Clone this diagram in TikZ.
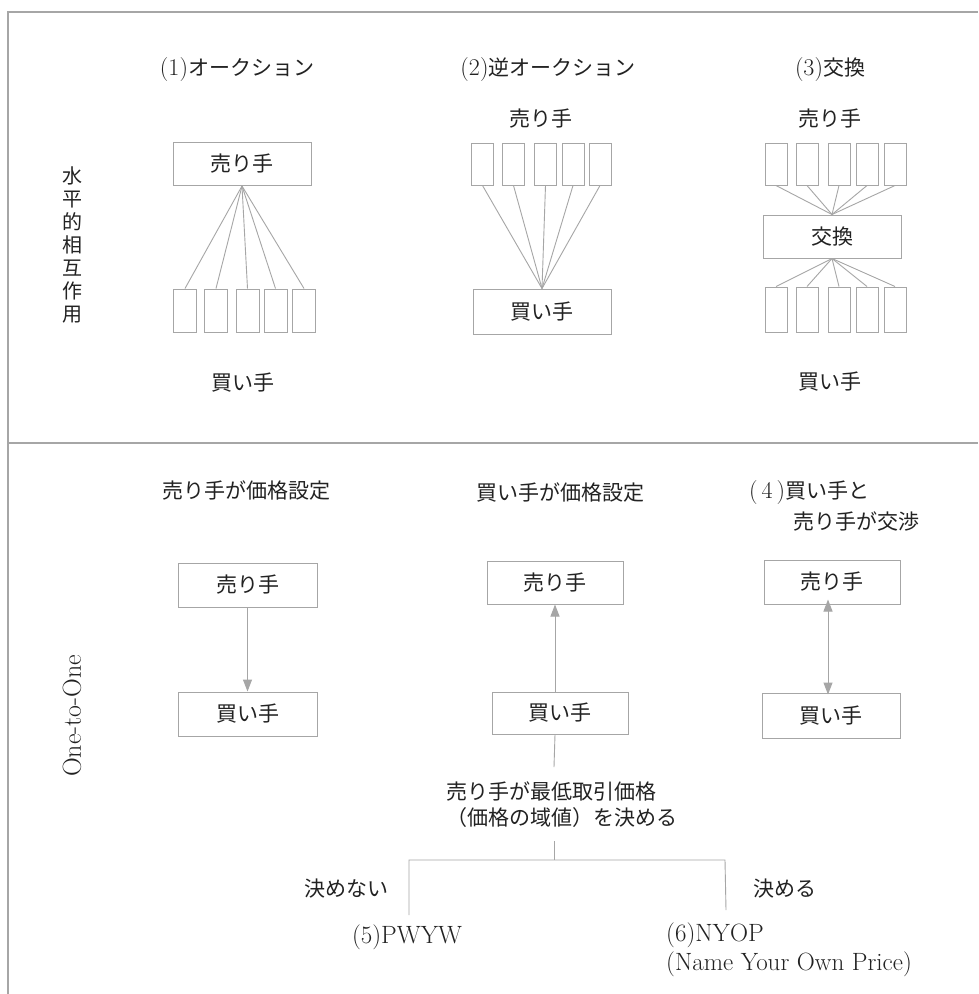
\documentclass[tikz,border=0pt]{standalone}
\usepackage{fontspec}
\newfontfamily\jp{Noto Sans CJK JP}
\usetikzlibrary{arrows.meta}
\definecolor{lgray}{HTML}{A6A6A6}
\definecolor{txt}{HTML}{222222}
\newcommand{\lat}[1]{{\fontsize{24}{28}\selectfont #1}}
\begin{document}
\begin{tikzpicture}[x=1pt,y=-1pt,
  every node/.style={text=txt,font=\fontsize{21}{26}\selectfont,inner sep=0pt},
  box/.style={draw=lgray,line width=1pt,minimum width=138pt,minimum height=43pt},
  sbox/.style={draw=lgray,line width=1pt,minimum width=22pt,minimum height=42pt},
  ln/.style={draw=lgray,line width=0.9pt},
  arr/.style={draw=lgray,line width=1pt,-{Triangle[length=12pt,width=9pt]}},
  darr/.style={draw=lgray,line width=1pt,{Triangle[length=12pt,width=9pt]}-{Triangle[length=12pt,width=9pt]}}]
\useasboundingbox (0,0) rectangle (978,994);
\fill[white] (0,0) rectangle (978,994);
% frame
\draw[ln,line width=1.2pt] (978,12) -- (8,12) -- (8,994);
\draw[ln,line width=1.2pt] (8,443) -- (978,443);
% side labels
\node[align=center,font=\jp\fontsize{20}{23}\selectfont] (side1) at (72,245) {水\\平\\的\\相\\互\\作\\用};
\node[rotate=90,font=\fontsize{26}{30}\selectfont] (side2) at (72,716) {One-to-One};
% ---------- (1) auction
\node (t1) at (237,70) {\lat{(1)}\jp オークション};
\node[box] (s1) at (242,164) {\jp 売り手};
\foreach \i/\x in {1/185,2/216,3/247.5,4/275.5,5/304}{
  \node[sbox,minimum width=23pt,minimum height=43pt] (b1\i) at (\x,310.5) {};
  \draw[ln] (s1.south) -- (b1\i.north);
}
\node (l1) at (243,383) {\jp 買い手};
% ---------- (2) reverse auction
\node (t2) at (548,70) {\lat{(2)}\jp 逆オークション};
\node (l2) at (541,119) {\jp 売り手};
\node[box,minimum height=45pt] (s2) at (542,311.5) {\jp 買い手};
\foreach \i/\x in {1/482.5,2/513.5,3/545.5,4/573,5/600}{
  \node[sbox] (r2\i) at (\x,164) {};
  \draw[ln] (r2\i.south) -- (s2.north);
}
% ---------- (3) exchange
\node (t3) at (830,70) {\lat{(3)}\jp 交換};
\node (l3a) at (830,119) {\jp 売り手};
\node[box] (ex) at (832,236.5) {\jp 交換};
\foreach \i/\x in {1/776,2/807,3/839,4/867,5/895}{
  \node[sbox] (u3\i) at (\x,164) {};
  \node[sbox,minimum height=45pt] (d3\i) at (\x,309.5) {};
  \draw[ln] (u3\i.south) -- (ex.north);
  \draw[ln] (ex.south) -- (d3\i.north);
}
\node (l3b) at (830,382) {\jp 買い手};
% ---------- bottom section
\node (h1) at (246,491) {\jp 売り手が価格設定};
\node (h2) at (560,493) {\jp 買い手が価格設定};
\node[anchor=west] (h3) at (749,493) {\lat{(\,4\,)}\jp 買い手と};
\node[anchor=west] (h3b) at (793,521) {\jp 売り手が交渉};
% column 1
\node[box,minimum width=139pt,minimum height=44pt] (c1s) at (247.5,585) {\jp 売り手};
\node[box,minimum width=139pt,minimum height=44pt] (c1b) at (247.5,714) {\jp 買い手};
\draw[arr] (c1s.south) -- (c1b.north);
% column 2
\node[box,minimum width=136pt] (c2s) at (555,582.5) {\jp 売り手};
\node[box,minimum width=136pt,minimum height=42pt] (c2b) at (560,713) {\jp 買い手};
\draw[arr] (c2s.south |- c2b.north) -- (c2s.south);
\node[align=left,font=\jp\fontsize{21}{26}\selectfont] (dec) at (562,805) {売り手が最低取引価格\\（価格の域値）を決める};
\coordinate (d0) at (554,767);
\coordinate (d1) at (554,841);
\coordinate (j) at (554,860);
\coordinate (jl) at (409,860);
\coordinate (jr) at (725,860);
\coordinate (el) at (409,915);
\coordinate (er) at (726,910);
\draw[ln] (c2s.south |- c2b.south) -- (d0);
\draw[ln] (d1) -- (j);
\draw[ln] (el) -- (jl) -- (jr) -- (er);
\node (no) at (346,889) {\jp 決めない};
\node (yes) at (785,889) {\jp 決める};
\node[font=\fontsize{25}{30}\selectfont] (p5) at (407,937) {(5)PWYW};
\node[align=left,anchor=north west,font=\fontsize{25}{29}\selectfont] (p6) at (666,923) {(6)NYOP\\(Name Your Own Price)};
% column 3
\node[box,minimum width=136pt,minimum height=44pt] (c3s) at (832,582) {\jp 売り手};
\node[box,minimum height=45pt] (c3b) at (831,715.5) {\jp 買い手};
\draw[darr] ([yshift=5pt]c3s.south -| 828,0) -- ([yshift=-2pt]c3b.north -| 828,0);
\end{tikzpicture}
\end{document}
